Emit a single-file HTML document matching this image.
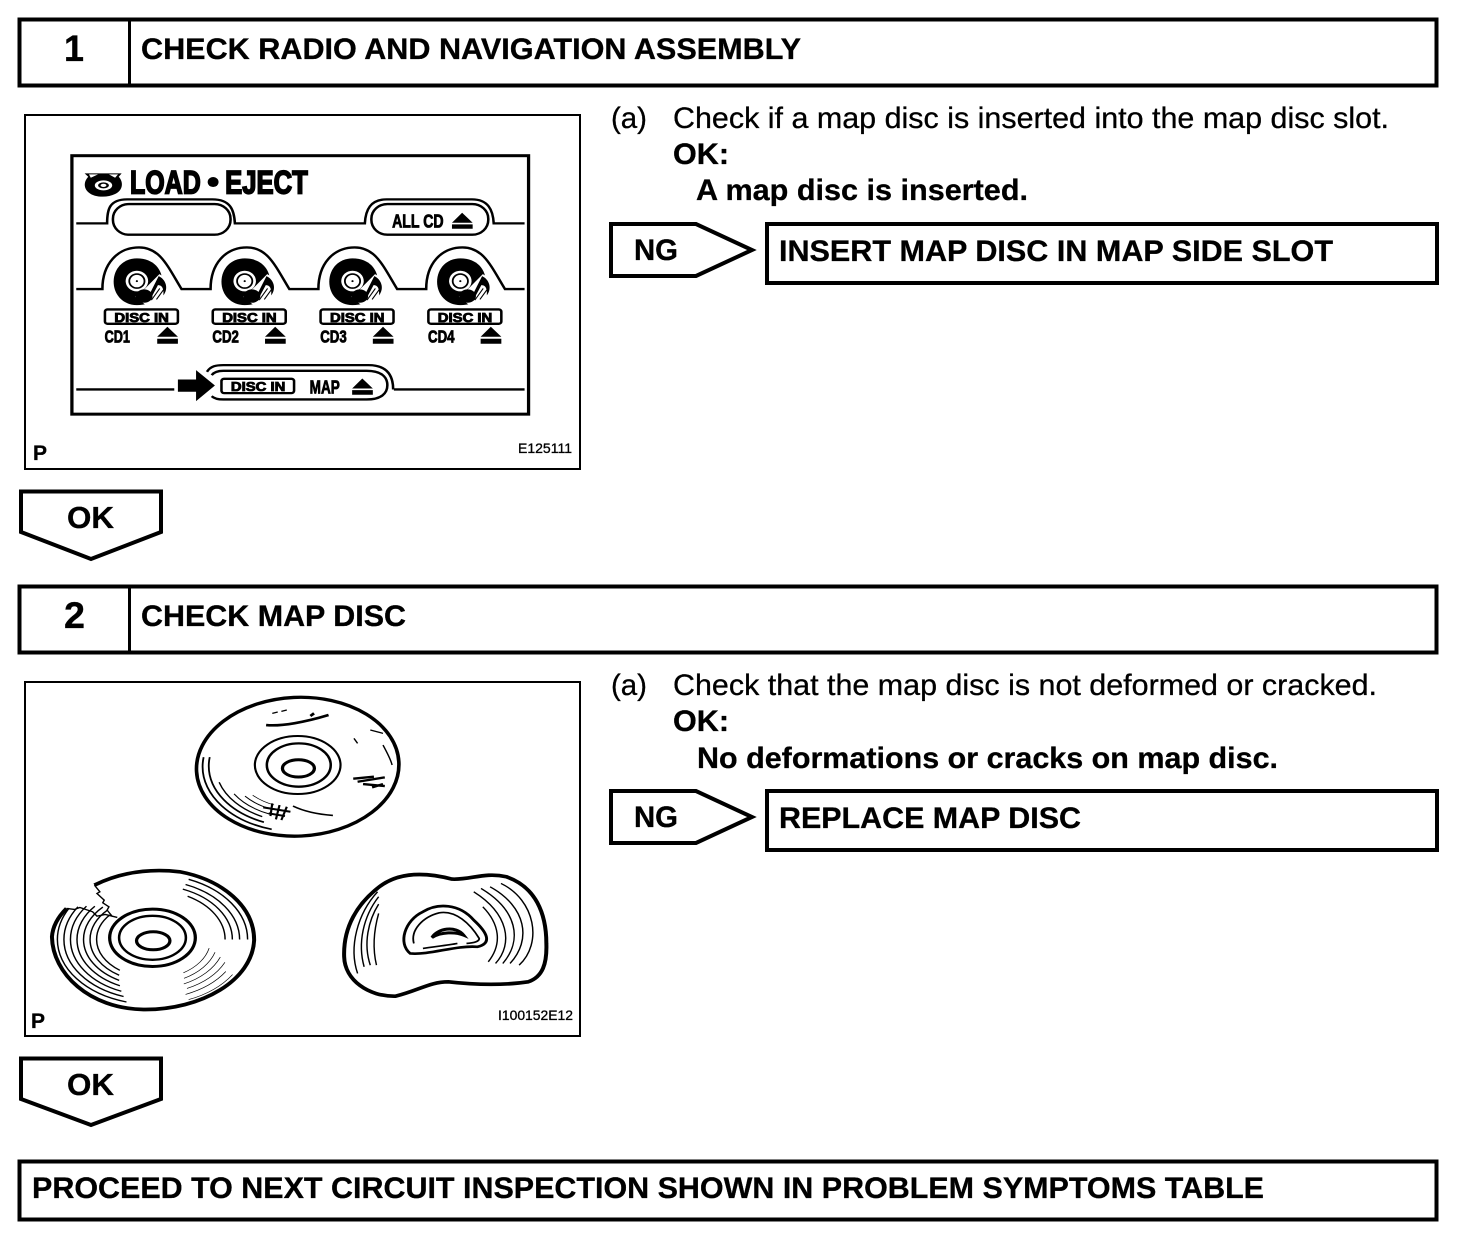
<!DOCTYPE html>
<html><head><meta charset="utf-8"><style>
html,body{margin:0;padding:0;background:#fff}
svg{display:block}
text{font-family:"Liberation Sans",sans-serif;fill:#000;stroke:#000;stroke-width:.3px}
.b{font-weight:bold}
.s{fill:none;stroke:#000;stroke-width:4}
.f{fill:none;stroke:#000;stroke-width:2}
.l{fill:none;stroke:#000;stroke-width:7}
.k{fill:#000}
.w{fill:#fff}
.c{font-weight:bold;stroke-width:2.500px}
.t{font-weight:bold;stroke-width:5px}
</style></head><body>
<svg width="1472" height="1240" viewBox="0 0 1472 1240" xmlns="http://www.w3.org/2000/svg">
<defs>
<g id="cd">
 <path class="k" d="M322,445 C370,445 392,480 392,515 C392,555 370,585 322,585 C285,585 258,555 258,515 C258,475 285,445 322,445Z"/>
 <circle class="w" cx="322" cy="513" r="31"/>
 <circle cx="322" cy="513" r="21" fill="none" stroke="#000" stroke-width="5"/>
 <circle class="k" cx="322" cy="513" r="3"/>
 <path class="w" d="M384,492 L412,510 L405,580 L352,590 L318,560 L345,535Z"/>
 <ellipse class="k" cx="342" cy="558" rx="23" ry="20"/>
 <path class="k" d="M358,550 L382,498 C402,508 410,535 395,556 C397,530 388,525 380,525 L362,562Z"/>
 <path fill="none" stroke="#000" stroke-width="3" d="M362,570 L385,535 M376,568 L398,535"/>
 <rect x="234" y="598" width="201" height="43" rx="7" fill="none" stroke="#000" stroke-width="7"/>
 <text class="c" x="260" y="635" font-size="38" textLength="150" lengthAdjust="spacingAndGlyphs">DISC IN</text>
 <path class="k" d="M406,650 L435,680 H378Z M378,686 H435 V701 H378Z"/>
</g>
</defs>

<!-- header 1 -->
<rect class="s" x="19.500" y="19.500" width="1417" height="66"/>
<rect class="k" x="128" y="18" width="3" height="68"/>
<text class="b" x="64" y="61" font-size="37" textLength="20" lengthAdjust="spacingAndGlyphs">1</text>
<text class="b" x="141" y="59" font-size="30" textLength="660" lengthAdjust="spacingAndGlyphs">CHECK RADIO AND NAVIGATION ASSEMBLY</text>

<!-- figure 1 -->
<rect class="f" x="25" y="115" width="555" height="354"/>
<g transform="translate(20,110) scale(.363,.3335)">
 <rect x="143" y="137" width="1258" height="775" fill="none" stroke="#000" stroke-width="9"/>
 <path class="k" d="M178,190 H280 L272,200 C285,215 285,240 262,252 C240,264 205,262 190,248 C175,235 175,215 188,200Z"/>
 <ellipse class="w" cx="230" cy="226" rx="24" ry="15"/>
 <ellipse class="k" cx="230" cy="226" rx="15" ry="9"/>
 <ellipse class="w" cx="230" cy="226" rx="8" ry="5"/>
 <path class="w" d="M190,193 H215 L195,203Z M245,193 H270 L262,203Z"/>
 <text class="t" x="303" y="250" font-size="96" textLength="195" lengthAdjust="spacingAndGlyphs">LOAD</text>
 <circle class="k" cx="532" cy="216" r="15"/>
 <text class="t" x="565" y="250" font-size="96" textLength="228" lengthAdjust="spacingAndGlyphs">EJECT</text>

 <path class="l" d="M155,340 H240 C240,300 245,268 295,268 H530 C580,268 590,300 592,340 H950 C952,300 965,268 1010,268 H1245 C1290,268 1303,300 1305,340 H1390"/>
 <rect x="256" y="282" width="324" height="92" rx="44" fill="none" stroke="#000" stroke-width="7"/>
 <rect x="968" y="282" width="322" height="92" rx="44" fill="none" stroke="#000" stroke-width="7"/>
 <text class="c" x="1025" y="353" font-size="55" textLength="142" lengthAdjust="spacingAndGlyphs">ALL CD</text>
 <path class="k" d="M1218,308 L1247,338 H1190Z M1190,343 H1247 V356 H1190Z"/>

 <path class="l" d="M155,537 H227 C227,460 270,412 328,412 C385,412 405,465 445,537 H525 C525,460 567,412 625,412 C682,412 702,465 742,537 H822 C822,460 864,412 922,412 C979,412 999,465 1039,537 H1119 C1119,460 1161,412 1219,412 C1276,412 1296,465 1336,537 H1390"/>
 <use href="#cd"/>
 <use href="#cd" x="297"/>
 <use href="#cd" x="594"/>
 <use href="#cd" x="891"/>
 <text class="c" x="233" y="697" font-size="52" textLength="70" lengthAdjust="spacingAndGlyphs">CD1</text>
 <text class="c" x="530" y="697" font-size="52" textLength="73" lengthAdjust="spacingAndGlyphs">CD2</text>
 <text class="c" x="827" y="697" font-size="52" textLength="73" lengthAdjust="spacingAndGlyphs">CD3</text>
 <text class="c" x="1124" y="697" font-size="52" textLength="73" lengthAdjust="spacingAndGlyphs">CD4</text>

 <path class="l" d="M155,838 H425 M1030,838 H1390"/>
 <path class="l" d="M515,785 C525,768 540,765 560,765 H960 C1010,765 1028,795 1028,838"/>
 <path class="l" d="M528,795 C535,785 545,782 560,782 H955 C995,782 1012,800 1012,825 C1012,850 995,868 955,868 H560 C545,868 535,865 528,858"/>
 <path class="k" d="M435,808 H485 V780 L537,826 L485,873 V845 H435Z"/>
 <rect x="555" y="806" width="200" height="43" rx="7" fill="none" stroke="#000" stroke-width="7"/>
 <text class="c" x="581" y="843" font-size="38" textLength="150" lengthAdjust="spacingAndGlyphs">DISC IN</text>
 <text class="c" x="798" y="850" font-size="55" textLength="83" lengthAdjust="spacingAndGlyphs">MAP</text>
 <path class="k" d="M943,805 L972,835 H915Z M915,840 H972 V854 H915Z"/>
</g>
<text class="b" x="33" y="460" font-size="21">P</text>
<text x="518" y="453" font-size="14" textLength="54" lengthAdjust="spacingAndGlyphs">E125111</text>

<!-- step 1 text -->
<text x="611" y="128" font-size="30" textLength="36" lengthAdjust="spacingAndGlyphs">(a)</text>
<text x="673" y="128" font-size="30" textLength="716" lengthAdjust="spacingAndGlyphs">Check if a map disc is inserted into the map disc slot.</text>
<text class="b" x="673" y="164" font-size="30" textLength="56" lengthAdjust="spacingAndGlyphs">OK:</text>
<text class="b" x="696" y="200" font-size="30" textLength="332" lengthAdjust="spacingAndGlyphs">A map disc is inserted.</text>

<polygon class="s" points="611,224 696,224 752,250 696,276 611,276"/>
<text class="b" x="634" y="260" font-size="30" textLength="44" lengthAdjust="spacingAndGlyphs">NG</text>
<rect class="s" x="767" y="224" width="670" height="59"/>
<text class="b" x="779" y="261" font-size="30" textLength="554" lengthAdjust="spacingAndGlyphs">INSERT MAP DISC IN MAP SIDE SLOT</text>

<polygon class="s" points="21,491.500 161,491.500 161,532 91,559 21,532"/>
<text class="b" x="67" y="528" font-size="31" textLength="47" lengthAdjust="spacingAndGlyphs">OK</text>

<!-- header 2 -->
<rect class="s" x="19.500" y="586.500" width="1417" height="66"/>
<rect class="k" x="128" y="585" width="3" height="68"/>
<text class="b" x="64" y="628" font-size="37" textLength="21" lengthAdjust="spacingAndGlyphs">2</text>
<text class="b" x="141" y="626" font-size="30" textLength="265" lengthAdjust="spacingAndGlyphs">CHECK MAP DISC</text>

<!-- figure 2 -->
<rect class="f" x="25" y="682" width="555" height="354"/>
<g transform="translate(20,680) scale(.363,.3335)" fill="none" stroke="#000">
 <!-- disc A -->
 <ellipse cx="765" cy="260" rx="279" ry="208" stroke-width="10" transform="rotate(-3 765 260)"/>
 <ellipse cx="765" cy="255" rx="118" ry="87" stroke-width="6"/>
 <ellipse cx="768" cy="255" rx="88" ry="65" stroke-width="7"/>
 <ellipse cx="767" cy="265" rx="44" ry="26" stroke-width="9"/>
 <ellipse cx="765" cy="260" rx="262" ry="195" stroke-width="5" pathLength="100" stroke-dasharray="0 30 22 100"/>
 <ellipse cx="765" cy="258" rx="245" ry="182" stroke-width="5" pathLength="100" stroke-dasharray="0 32 20 100"/>
 <ellipse cx="765" cy="258" rx="226" ry="168" stroke-width="4" pathLength="100" stroke-dasharray="0 33 13 100"/>
 <ellipse cx="765" cy="258" rx="208" ry="155" stroke-width="3" pathLength="100" stroke-dasharray="0 32 10 100"/>
 <ellipse cx="765" cy="258" rx="190" ry="140" stroke-width="3" pathLength="100" stroke-dasharray="0 32 8 100"/>
 <ellipse cx="765" cy="258" rx="172" ry="126" stroke-width="2" pathLength="100" stroke-dasharray="0 32 7 100"/>
 <path stroke-width="8" d="M678,135 C720,140 790,125 850,105 M800,108 L810,100"/>
 <path stroke-width="4" d="M695,100 L710,96 M720,94 L735,90 M920,175 L930,190 M1000,195 C1010,215 1022,240 1025,255 M965,150 L1000,160"/>
 <path stroke-width="7" d="M918,296 L975,290 M930,305 L1005,292 M945,312 L1005,318 M970,322 L1000,312"/>
 <path stroke-width="6" d="M670,382 L745,395 M685,400 L730,408 M695,370 L690,408 M715,375 L705,418 M735,380 L720,420"/>
 <path stroke-width="5" d="M752,378 C775,390 810,402 862,406"/>
 <!-- disc B cracked -->
 <path stroke-width="11" d="M205,615 C280,575 360,565 440,575 C560,600 645,680 645,780 C640,900 500,990 340,988 C190,985 90,880 88,770 C90,740 105,710 128,685"/>
 <path stroke-width="4" d="M205,615 L220,635 L212,640 L232,660 L228,668 L245,680 L240,690 L255,710 M128,685 L150,688 L165,682 L200,695 L212,708 L235,703 L268,712"/>
 <ellipse cx="365" cy="773" rx="118" ry="86" stroke-width="9"/>
 <ellipse cx="365" cy="773" rx="92" ry="66" stroke-width="7"/>
 <ellipse cx="367" cy="782" rx="46" ry="27" stroke-width="9"/>
 <ellipse cx="365" cy="778" rx="262" ry="195" stroke-width="4" pathLength="100" stroke-dasharray="0 30 27 100"/>
 <ellipse cx="365" cy="778" rx="244" ry="181" stroke-width="4" pathLength="100" stroke-dasharray="0 31 27 100"/>
 <ellipse cx="365" cy="778" rx="226" ry="168" stroke-width="4" pathLength="100" stroke-dasharray="0 32 27 100"/>
 <ellipse cx="365" cy="778" rx="208" ry="154" stroke-width="4" pathLength="100" stroke-dasharray="0 33 27 100"/>
 <ellipse cx="365" cy="778" rx="190" ry="140" stroke-width="4" pathLength="100" stroke-dasharray="0 34 27 100"/>
 <ellipse cx="365" cy="778" rx="172" ry="127" stroke-width="4" pathLength="100" stroke-dasharray="0 35 26 100"/>
 <ellipse cx="365" cy="778" rx="154" ry="114" stroke-width="4" pathLength="100" stroke-dasharray="0 36 24 100"/>
 <ellipse cx="365" cy="778" rx="262" ry="195" stroke-width="4" pathLength="100" stroke-dasharray="0 82 22 100"/>
 <ellipse cx="365" cy="778" rx="240" ry="178" stroke-width="4" pathLength="100" stroke-dasharray="0 82 20 100"/>
 <ellipse cx="365" cy="778" rx="220" ry="163" stroke-width="4" pathLength="100" stroke-dasharray="0 82 18 100"/>
 <ellipse cx="365" cy="778" rx="200" ry="148" stroke-width="4" pathLength="100" stroke-dasharray="0 84 16 100"/>
 <ellipse cx="365" cy="778" rx="262" ry="195" stroke-width="2" pathLength="100" stroke-dasharray="0 8 10 100"/>
 <ellipse cx="365" cy="778" rx="240" ry="178" stroke-width="2" pathLength="100" stroke-dasharray="0 8 10 100"/>
 <ellipse cx="365" cy="778" rx="220" ry="163" stroke-width="2" pathLength="100" stroke-dasharray="0 6 11 100"/>
 <ellipse cx="365" cy="778" rx="200" ry="148" stroke-width="2" pathLength="100" stroke-dasharray="0 5 12 100"/>
 <ellipse cx="365" cy="778" rx="180" ry="133" stroke-width="2" pathLength="100" stroke-dasharray="0 4 12 100"/>
 <ellipse cx="365" cy="778" rx="160" ry="118" stroke-width="2" pathLength="100" stroke-dasharray="0 3 12 100"/>
 <!-- disc C warped -->
 <path stroke-width="11" d="M1035,948 C1100,930 1130,905 1180,905 C1260,915 1340,915 1400,905 C1440,890 1452,850 1450,790 C1450,700 1420,620 1340,590 C1280,575 1240,600 1190,597 C1130,580 1050,570 990,620 C930,670 890,740 893,830 C895,900 960,950 1035,948Z"/>
 <path stroke-width="8" d="M1075,820 C1040,790 1060,720 1110,695 C1150,668 1210,670 1250,720 C1290,760 1300,790 1260,800 C1200,795 1130,825 1075,820Z"/>
 <path stroke-width="5" d="M1085,790 C1075,750 1110,710 1155,698 C1200,690 1240,730 1265,775 C1265,785 1250,788 1230,790 M1110,805 C1140,800 1180,795 1205,790"/>
 <path stroke-width="9" d="M1135,772 C1150,745 1200,735 1222,765 C1200,755 1160,755 1135,772Z"/>
 <path stroke-width="4" d="M930,880 C905,800 930,700 985,635 M948,860 C930,790 945,710 988,650 M965,855 C945,790 960,720 988,672 M982,855 C970,800 975,750 988,700"/>
 <path stroke-width="4" d="M1375,855 C1440,790 1420,660 1325,610 M1350,850 C1410,780 1395,680 1295,620 M1330,850 C1385,780 1370,690 1270,625 M1310,850 C1360,790 1345,700 1250,635 M1290,845 C1330,790 1320,730 1275,680"/>
</g>
<text class="b" x="31" y="1028" font-size="21">P</text>
<text x="498" y="1020" font-size="14" textLength="75" lengthAdjust="spacingAndGlyphs">I100152E12</text>

<!-- step 2 text -->
<text x="611" y="695" font-size="30" textLength="36" lengthAdjust="spacingAndGlyphs">(a)</text>
<text x="673" y="695" font-size="30" textLength="704" lengthAdjust="spacingAndGlyphs">Check that the map disc is not deformed or cracked.</text>
<text class="b" x="673" y="731" font-size="30" textLength="56" lengthAdjust="spacingAndGlyphs">OK:</text>
<text class="b" x="697" y="768" font-size="30" textLength="581" lengthAdjust="spacingAndGlyphs">No deformations or cracks on map disc.</text>

<polygon class="s" points="611,791 696,791 752,817 696,843 611,843"/>
<text class="b" x="634" y="827" font-size="30" textLength="44" lengthAdjust="spacingAndGlyphs">NG</text>
<rect class="s" x="767" y="791" width="670" height="59"/>
<text class="b" x="779" y="828" font-size="30" textLength="302" lengthAdjust="spacingAndGlyphs">REPLACE MAP DISC</text>

<polygon class="s" points="21,1058.500 161,1058.500 161,1099 91,1125 21,1099"/>
<text class="b" x="67" y="1095" font-size="31" textLength="47" lengthAdjust="spacingAndGlyphs">OK</text>

<!-- final -->
<rect class="s" x="19.500" y="1161.500" width="1417" height="58"/>
<text class="b" x="32" y="1198" font-size="30" textLength="1232" lengthAdjust="spacingAndGlyphs">PROCEED TO NEXT CIRCUIT INSPECTION SHOWN IN PROBLEM SYMPTOMS TABLE</text>
</svg>
</body></html>
